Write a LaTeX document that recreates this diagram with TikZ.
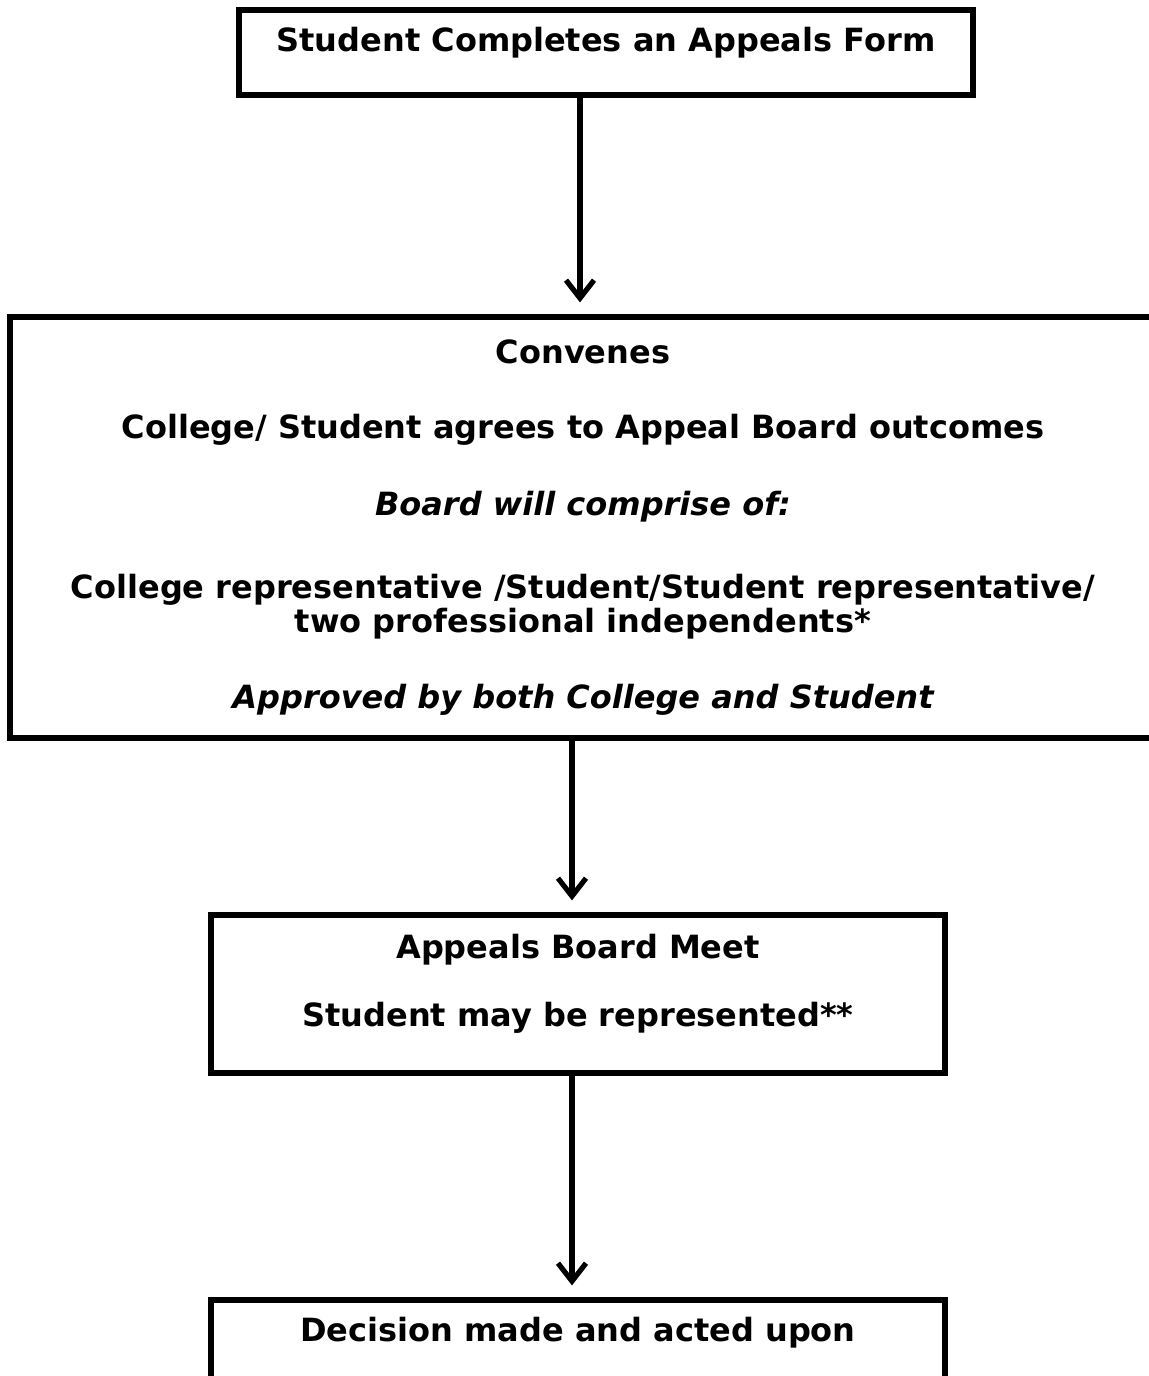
\documentclass[tikz,border=0pt]{standalone}
\usepackage{fontspec}
\setmainfont{DejaVu Sans}
\usetikzlibrary{arrows.meta}
\tikzstyle{stepbox}=[draw=black, line width=2.6pt, inner sep=0pt]
\tikzstyle{boxtext}=[inner sep=0pt, font=\bfseries\fontsize{16}{18}\selectfont]
\tikzstyle{boxnote}=[boxtext, font=\bfseries\itshape\fontsize{16}{18}\selectfont]
\tikzstyle{flow}=[draw=black, line width=2.6pt, -{Straight Barb[length=9pt, width=14pt, line width=2.6pt]}, shorten >=6pt]

\begin{document}
\begin{tikzpicture}[x=0.5pt, y=-0.5pt]
	\useasboundingbox (0,0) rectangle (1149,1376);
	% boxes
	\node [style=stepbox, minimum width=367pt, minimum height=42.5pt] (form) at (606,52.5) {};
	\node [style=stepbox, minimum width=575pt, minimum height=210.5pt] (convene) at (585,527.5) {};
	\node [style=stepbox, minimum width=367pt, minimum height=79pt] (meet) at (578,994) {};
	\node [style=stepbox, minimum width=367pt, minimum height=60pt] (decide) at (578,1360) {};
	% texts
	\node [style=boxtext] (t1) at (606,43) {Student Completes an Appeals Form};
	\node [style=boxtext] (t2) at (583,352) {Convenes};
	\node [style=boxtext] (t3) at (583,430) {College/ Student agrees to Appeal Board outcomes};
	\node [style=boxnote] (t4) at (583,507) {Board will comprise of:};
	\node [style=boxtext] (t5) at (583,590) {College representative /Student/Student representative/};
	\node [style=boxtext] (t6) at (583,624) {two professional independents*};
	\node [style=boxnote] (t7) at (583,700) {Approved by both College and Student};
	\node [style=boxtext] (t8) at (578,950) {Appeals Board Meet};
	\node [style=boxtext] (t9) at (578,1018) {Student may be represented**};
	\node [style=boxtext] (t10) at (578,1333) {Decision made and acted upon};
	% arrows
	\draw [style=flow] ([xshift=-13pt]form.south) -- ([xshift=-13pt]form.south |- convene.north);
	\draw [style=flow] ([xshift=-3pt]meet.north |- convene.south) -- ([xshift=-3pt]meet.north);
	\draw [style=flow] ([xshift=-3pt]meet.south) -- ([xshift=-3pt]meet.south |- decide.north);
\end{tikzpicture}
\end{document}
